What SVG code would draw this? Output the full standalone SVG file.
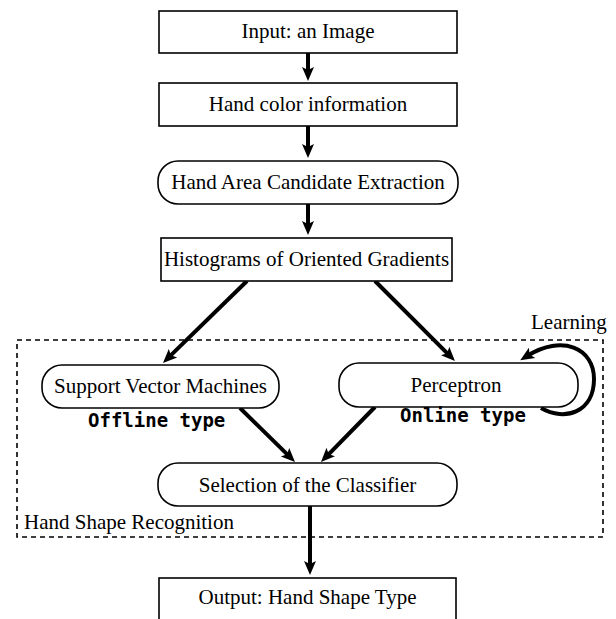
<svg xmlns="http://www.w3.org/2000/svg" width="616" height="619" viewBox="0 0 616 619">
<style>
.box{fill:#fff;stroke:#000;stroke-width:1.6}
.t{font-family:"Liberation Serif","Times New Roman",serif;font-size:21px;fill:#000}
.c{text-anchor:middle}
.m{font-family:"DejaVu Sans Mono","Liberation Mono",monospace;font-weight:bold;font-size:19px;fill:#000}
.a{fill:none;stroke:#000;stroke-width:4;marker-end:url(#ah)}
.grp{fill:none;stroke:#000;stroke-width:1.6;stroke-dasharray:5,4}
</style>
<defs>
<marker id="ah" markerUnits="userSpaceOnUse" markerWidth="14" markerHeight="14" viewBox="0 0 14 14" refX="6" refY="7" orient="auto">
<path d="M0,1 L14,7 L0,13 L3,7 z" fill="#000"/>
</marker>
</defs>
<g id="group-hsr">
<rect class="grp" x="17" y="340" width="586" height="197"/>
<text class="t" x="24" y="529">Hand Shape Recognition</text>
</g>
<g id="connectors">
<line class="a" x1="308" y1="53" x2="308" y2="73"/>
<line class="a" x1="308" y1="126" x2="308" y2="150"/>
<line class="a" x1="308" y1="204" x2="308" y2="227"/>
<line class="a" x1="247" y1="281" x2="168.7" y2="357.4"/>
<line class="a" x1="375" y1="281" x2="449.3" y2="355.3"/>
<line class="a" x1="240" y1="408" x2="289.3" y2="456.4"/>
<line class="a" x1="375" y1="407" x2="326.6" y2="456.3"/>
<line class="a" x1="310" y1="506" x2="310" y2="567"/>
<path class="a" d="M541 408 C565 422 594 412 594 379 C594 348 562 334 527 356"/>
<text class="t" x="531" y="329">Learning</text>
</g>
<g id="n-input">
<rect class="box" x="159" y="11" width="298" height="42"/>
<text class="t c" x="308" y="38">Input: an Image</text>
</g>
<g id="n-color">
<rect class="box" x="159" y="83" width="298" height="43"/>
<text class="t c" x="308" y="111">Hand color information</text>
</g>
<g id="n-candidate">
<rect class="box" x="158" y="161" width="300" height="43" rx="20" ry="20"/>
<text class="t c" x="308" y="189">Hand Area Candidate Extraction</text>
</g>
<g id="n-hog">
<rect class="box" x="161" y="238" width="291" height="43"/>
<text class="t c" x="306.5" y="266">Histograms of Oriented Gradients</text>
</g>
<g id="n-svm">
<rect class="box" x="42" y="365" width="237" height="43" rx="20" ry="20"/>
<text class="t c" x="160.5" y="393">Support Vector Machines</text>
<text class="m" x="88" y="427">Offline type</text>
</g>
<g id="n-perceptron">
<rect class="box" x="339" y="363" width="239" height="44" rx="20" ry="20"/>
<text class="t c" x="456" y="392">Perceptron</text>
<text class="m" x="400" y="422">Online type</text>
</g>
<g id="n-selection">
<rect class="box" x="158" y="463" width="299" height="43" rx="20" ry="20"/>
<text class="t c" x="307.5" y="492">Selection of the Classifier</text>
</g>
<g id="n-output">
<rect class="box" x="159" y="578" width="297" height="50"/>
<text class="t c" x="307.5" y="604">Output: Hand Shape Type</text>
</g>
</svg>
